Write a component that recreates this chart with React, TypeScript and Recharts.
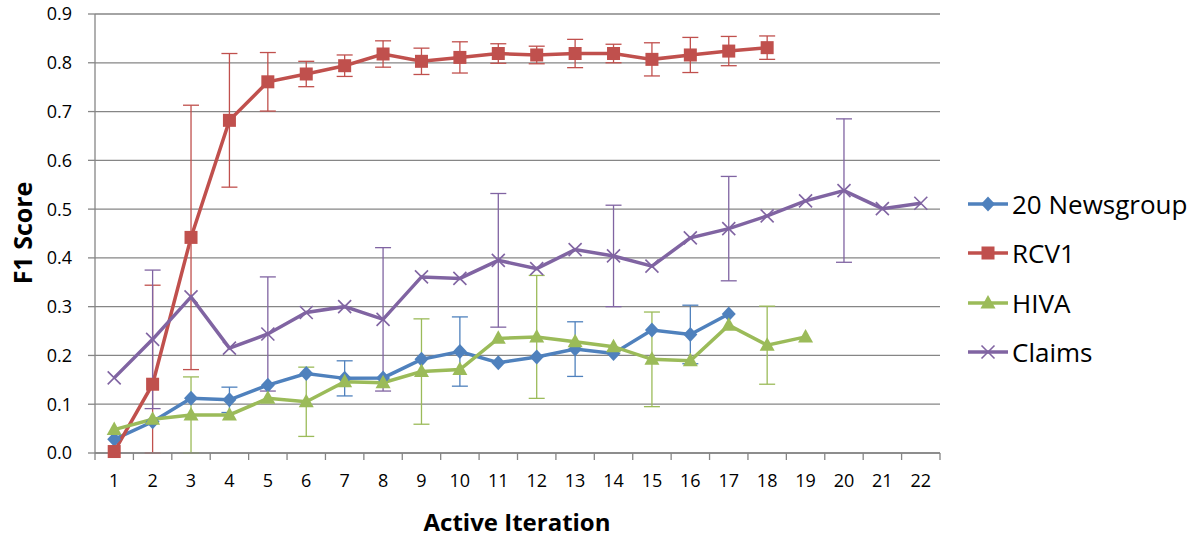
import { LineChart, Line, XAxis, YAxis, CartesianGrid, ErrorBar } from "recharts";

// active-learning iterations on the x axis
const iterations = [
  "1", "2", "3", "4", "5", "6", "7", "8", "9", "10", "11",
  "12", "13", "14", "15", "16", "17", "18", "19", "20", "21", "22",
];
const yTicks = [0, 0.1, 0.2, 0.3, 0.4, 0.5, 0.6, 0.7, 0.8, 0.9];

// mean F1 per iteration, and the error (± or [below, above]) where one was measured
const newsgroup = [
  0.028, 0.064, 0.112, 0.109, 0.139, 0.163, 0.153, 0.154, 0.192, 0.208, 0.185,
  0.197, 0.213, 0.204, 0.252, 0.243, 0.285,
];
const newsgroupErr = [
  null, null, null, 0.026, null, null, 0.036, null, null, 0.071, null,
  null, 0.056, null, null, 0.06, null,
];

const rcv1 = [
  0.003, 0.141, 0.442, 0.682, 0.761, 0.777, 0.794, 0.818, 0.803, 0.811, 0.819,
  0.816, 0.819, 0.819, 0.807, 0.816, 0.824, 0.831,
];
const rcv1Err = [
  null, [0.141, 0.203], 0.271, 0.137, 0.06, 0.026, 0.022, 0.027, 0.027, 0.032, 0.02,
  0.018, 0.029, 0.019, 0.034, 0.036, 0.03, 0.024,
];

const hiva = [
  0.048, 0.069, 0.078, 0.078, 0.112, 0.105, 0.146, 0.144, 0.167, 0.171, 0.235,
  0.238, 0.228, 0.218, 0.192, 0.189, 0.262, 0.221, 0.238,
];
const hivaErr = [
  null, null, 0.078, null, null, 0.071, null, null, 0.108, null, null,
  0.126, null, null, 0.097, null, null, 0.08, null,
];

const claims = [
  0.154, 0.233, 0.32, 0.215, 0.244, 0.288, 0.3, 0.274, 0.361, 0.358, 0.395,
  0.378, 0.417, 0.404, 0.383, 0.441, 0.46, 0.486, 0.517, 0.538, 0.501, 0.512,
];
const claimsErr = [
  null, 0.142, null, null, 0.117, null, null, 0.147, null, null, 0.137,
  null, null, 0.104, null, null, 0.107, null, null, 0.147, null, null,
];

const rows = iterations.map((it, i) => ({
  iteration: it,
  newsgroup: newsgroup[i] ?? null,
  newsgroupErr: newsgroupErr[i] ?? null,
  rcv1: rcv1[i] ?? null,
  rcv1Err: rcv1Err[i] ?? null,
  hiva: hiva[i] ?? null,
  hivaErr: hivaErr[i] ?? null,
  claims: claims[i] ?? null,
  claimsErr: claimsErr[i] ?? null,
}));

type Shape = "diamond" | "square" | "triangle" | "cross";

const series: { key: string; name: string; color: string; shape: Shape }[] = [
  { key: "newsgroup", name: "20 Newsgroup", color: "#4F81BD", shape: "diamond" },
  { key: "rcv1", name: "RCV1", color: "#C0504D", shape: "square" },
  { key: "hiva", name: "HIVA", color: "#9BBB59", shape: "triangle" },
  { key: "claims", name: "Claims", color: "#8064A2", shape: "cross" },
];

const FONT = "'Open Sans', 'DejaVu Sans', sans-serif";
const GRID = "#868686";
const W = 1195;
const H = 536;
const PLOT_LEFT = 95;
const PLOT_RIGHT = 940;
const PLOT_TOP = 14;
const PLOT_BOTTOM = 453;
const BAND = (PLOT_RIGHT - PLOT_LEFT) / iterations.length;

function Marker({ shape, cx, cy, color }: { shape: Shape; cx: number; cy: number; color: string }) {
  if (shape === "diamond") {
    return (
      <polygon
        points={`${cx},${cy - 7.5} ${cx + 7},${cy} ${cx},${cy + 7.5} ${cx - 7},${cy}`}
        fill={color}
      />
    );
  }
  if (shape === "square") {
    return <rect x={cx - 6.5} y={cy - 6.5} width={13} height={13} fill={color} />;
  }
  if (shape === "triangle") {
    return (
      <polygon
        points={`${cx},${cy - 8} ${cx + 7.5},${cy + 5.5} ${cx - 7.5},${cy + 5.5}`}
        fill={color}
      />
    );
  }
  return (
    <g stroke={color} strokeWidth={1.6}>
      <line x1={cx - 6.5} y1={cy - 6.5} x2={cx + 6.5} y2={cy + 6.5} />
      <line x1={cx - 6.5} y1={cy + 6.5} x2={cx + 6.5} y2={cy - 6.5} />
    </g>
  );
}

function XTick(props: any) {
  const { x, payload, index } = props;
  const last = index === iterations.length - 1;
  return (
    <g>
      <line x1={x - BAND / 2} y1={PLOT_BOTTOM} x2={x - BAND / 2} y2={PLOT_BOTTOM + 7} stroke={GRID} strokeWidth={1.3} />
      {last && (
        <line x1={x + BAND / 2} y1={PLOT_BOTTOM} x2={x + BAND / 2} y2={PLOT_BOTTOM + 7} stroke={GRID} strokeWidth={1.3} />
      )}
      <text x={x} y={PLOT_BOTTOM + 28} dy="0.355em" textAnchor="middle" fontSize={18} fill="#000" fontFamily={FONT}>
        {payload.value}
      </text>
    </g>
  );
}

export default function App() {
  return (
    <div style={{ position: "absolute", left: 0, top: 0, width: W, height: H, background: "#fff", fontFamily: FONT }}>
      <LineChart
        width={W}
        height={H}
        data={rows}
        margin={{ top: PLOT_TOP, right: W - PLOT_RIGHT, bottom: H - PLOT_BOTTOM - 30, left: 0 }}
      >
        <CartesianGrid vertical={false} stroke={GRID} strokeWidth={1.3} />
        <XAxis
          dataKey="iteration"
          height={30}
          padding={{ left: BAND / 2, right: BAND / 2 }}
          axisLine={{ stroke: GRID, strokeWidth: 1.3 }}
          tickLine={false}
          interval={0}
          tick={XTick}
        />
        <YAxis
          width={PLOT_LEFT}
          domain={[0, 0.9]}
          ticks={yTicks}
          tickFormatter={(v: number) => v.toFixed(1)}
          axisLine={{ stroke: GRID, strokeWidth: 1.3 }}
          tickLine={{ stroke: GRID, strokeWidth: 1.3 }}
          tickSize={7}
          tickMargin={16}
          tick={{ fontSize: 18, fill: "#000", fontFamily: FONT }}
        />
        {series.map((s) => (
          <Line
            key={s.key}
            dataKey={s.key}
            name={s.name}
            stroke={s.color}
            strokeWidth={3.5}
            isAnimationActive={false}
            dot={(p: any) =>
              p.cx == null || p.cy == null || p.value == null ? (
                <g key={p.index} />
              ) : (
                <Marker key={p.index} shape={s.shape} cx={p.cx} cy={p.cy} color={s.color} />
              )
            }
            activeDot={false}
          >
            <ErrorBar dataKey={`${s.key}Err`} direction="y" width={8} stroke={s.color} strokeWidth={1.3} />
          </Line>
        ))}
      </LineChart>

      <div
        style={{
          position: "absolute",
          left: 22,
          top: 233,
          transform: "translate(-50%, -50%) rotate(-90deg)",
          fontSize: 25,
          fontWeight: 700,
          whiteSpace: "nowrap",
        }}
      >
        F1 Score
      </div>
      <div
        style={{
          position: "absolute",
          left: 517,
          top: 521,
          transform: "translate(-50%, -50%)",
          fontSize: 24,
          fontWeight: 700,
          whiteSpace: "nowrap",
        }}
      >
        Active Iteration
      </div>

      {series.map((s, i) => (
        <div
          key={s.key}
          style={{
            position: "absolute",
            left: 966,
            top: 204 + i * 49.3 - 18,
            height: 36,
            display: "flex",
            alignItems: "center",
            fontSize: 26,
            whiteSpace: "nowrap",
          }}
        >
          <svg width={44} height={20} style={{ marginRight: 2 }}>
            <line x1={2} y1={10} x2={42} y2={10} stroke={s.color} strokeWidth={3.5} />
            <Marker shape={s.shape} cx={22} cy={10} color={s.color} />
          </svg>
          <span>{s.name}</span>
        </div>
      ))}
    </div>
  );
}
